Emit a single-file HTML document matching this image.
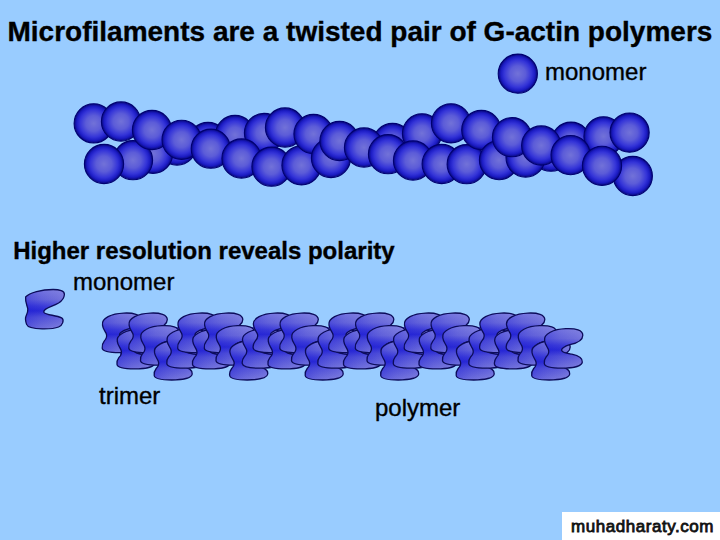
<!DOCTYPE html>
<html><head><meta charset="utf-8"><style>
html,body{margin:0;padding:0;}
body{width:720px;height:540px;background:#99ccff;position:relative;overflow:hidden;font-family:"Liberation Sans",sans-serif;color:#000;}
.t{position:absolute;white-space:nowrap;line-height:1;-webkit-text-stroke:0.35px #000;}
svg{position:absolute;left:0;top:0;}
.s{fill:url(#sg);stroke:#000070;stroke-width:1.1;}
#wm{position:absolute;left:562px;top:512px;width:158px;height:28px;background:#fff;}
</style></head><body>
<svg width="720" height="540" viewBox="0 0 720 540">
<defs>
<radialGradient id="sg" cx="50%" cy="50%" r="50%">
<stop offset="0" stop-color="#7272d8"/>
<stop offset="0.4" stop-color="#5c5cd8"/>
<stop offset="0.7" stop-color="#3434d8"/>
<stop offset="0.86" stop-color="#1c1cc4"/>
<stop offset="1" stop-color="#08087e"/>
</radialGradient>
<linearGradient id="ug" x1="0" y1="0" x2="0" y2="1">
<stop offset="0" stop-color="#7c7ce0"/>
<stop offset="0.25" stop-color="#6868da"/>
<stop offset="0.42" stop-color="#3c3cd8"/>
<stop offset="0.54" stop-color="#2a2ad4"/>
<stop offset="0.7" stop-color="#5454d8"/>
<stop offset="1" stop-color="#7878dc"/>
</linearGradient>
<linearGradient id="uh" x1="0" y1="0" x2="1" y2="0">
<stop offset="0" stop-color="#1414d8" stop-opacity="0.35"/>
<stop offset="0.4" stop-color="#2020d8" stop-opacity="0.1"/>
<stop offset="0.7" stop-color="#8080e0" stop-opacity="0.1"/>
<stop offset="1" stop-color="#9898e8" stop-opacity="0.3"/>
</linearGradient>
<path id="ushape" d="M0.8,12 C-0.5,5 10,0.5 22,0 C32,-0.5 39,1.5 39,6.5 C39,11.5 33,14.5 26,16 C21,17.5 17,20 18,22 C19,24 23,24.5 28,25.5 C35,27 39,29.5 38.5,33.5 C38,37.5 29,39.5 18,39.5 C8,39.5 1,38.5 0.5,35 C0,32 1,30 2.5,28 C4.5,26 5.5,23 4.5,20.5 C3.5,18 1.2,16 0.8,12 Z"/>
<path id="mshape" d="M0,7.5 C4,3 16,0 27.5,0 C34,0 39,1.5 38.8,5 C38.5,9 37,11 33,13.5 C27,17 17,19 18.3,22.7 C19.5,25.5 30,25.5 36,28.3 C39,30.5 37,36 33,37.5 C28,39.5 22,39.5 16.6,39.4 C9,39.2 2,38 1,34.9 C0,32 -0.5,29 0.3,27 C1.5,24 2.5,22 2.2,19.4 C1.5,16 -0.5,12 0,7.5 Z"/>
<g id="m0"><use href="#mshape" fill="url(#ug)"/><use href="#mshape" fill="url(#uh)" stroke="#0c0c5a" stroke-width="1.3"/></g>
<g id="u0"><use href="#ushape" fill="url(#ug)"/><use href="#ushape" fill="url(#uh)" stroke="#0c0c5a" stroke-width="1.3"/></g>
<g id="u"><use href="#u0" x="101.7" y="313.1"/></g>
</defs>
<circle cx="517.8" cy="73.7" r="19.6" class="s"/>
<circle cx="177" cy="145.5" r="19.6" class="s"/>
<circle cx="153" cy="153.8" r="19.6" class="s"/>
<circle cx="208" cy="142" r="19.6" class="s"/>
<circle cx="235" cy="135" r="19.6" class="s"/>
<circle cx="392.5" cy="143" r="19.6" class="s"/>
<circle cx="551" cy="151.7" r="19.6" class="s"/>
<circle cx="571" cy="141.7" r="19.6" class="s"/>
<circle cx="93.7" cy="123.4" r="19.6" class="s"/>
<circle cx="121" cy="121.5" r="19.6" class="s"/>
<circle cx="133" cy="160.2" r="19.6" class="s"/>
<circle cx="104" cy="164" r="19.6" class="s"/>
<circle cx="152" cy="130" r="19.6" class="s"/>
<circle cx="181.6" cy="139.8" r="19.6" class="s"/>
<circle cx="210.8" cy="148.7" r="19.6" class="s"/>
<circle cx="264" cy="133" r="19.6" class="s"/>
<circle cx="241.5" cy="158.5" r="19.6" class="s"/>
<circle cx="271.5" cy="166.7" r="19.6" class="s"/>
<circle cx="285" cy="127.5" r="19.6" class="s"/>
<circle cx="301.5" cy="165.3" r="19.6" class="s"/>
<circle cx="313.5" cy="134" r="19.6" class="s"/>
<circle cx="331" cy="158" r="19.6" class="s"/>
<circle cx="339.5" cy="141" r="19.6" class="s"/>
<circle cx="364" cy="147.5" r="19.6" class="s"/>
<circle cx="388" cy="154.2" r="19.6" class="s"/>
<circle cx="422" cy="133.4" r="19.6" class="s"/>
<circle cx="413" cy="160.5" r="19.6" class="s"/>
<circle cx="451" cy="123.3" r="19.6" class="s"/>
<circle cx="441.7" cy="164" r="19.6" class="s"/>
<circle cx="466.7" cy="164.2" r="19.6" class="s"/>
<circle cx="481.3" cy="130" r="19.6" class="s"/>
<circle cx="499" cy="160.1" r="19.6" class="s"/>
<circle cx="525.6" cy="157.5" r="19.6" class="s"/>
<circle cx="512" cy="137.2" r="19.6" class="s"/>
<circle cx="541.2" cy="145.5" r="19.6" class="s"/>
<circle cx="603.5" cy="136.4" r="19.6" class="s"/>
<circle cx="570.6" cy="155.1" r="19.6" class="s"/>
<circle cx="632.8" cy="176" r="19.6" class="s"/>
<circle cx="602" cy="165.8" r="19.6" class="s"/>
<circle cx="629.6" cy="132.6" r="19.6" class="s"/>
<use href="#m0" x="25.6" y="289.5"/>
<path d="M120,327 L552,327 L552,332 L565,332 L565,358 L120,358 Z" fill="#4a4ad4"/>
<use href="#u" x="0.0" y="0.0"/>
<use href="#u" x="14.8" y="16.3"/>
<use href="#u" x="26.6" y="0.0"/>
<use href="#u" x="38.3" y="12.6"/>
<use href="#u" x="52.0" y="27.4"/>
<use href="#u" x="64.6" y="15.6"/>
<use href="#u" x="75.5" y="0.0"/>
<use href="#u" x="90.3" y="16.3"/>
<use href="#u" x="102.1" y="0.0"/>
<use href="#u" x="113.8" y="12.6"/>
<use href="#u" x="127.5" y="27.4"/>
<use href="#u" x="140.1" y="15.6"/>
<use href="#u" x="151.0" y="0.0"/>
<use href="#u" x="165.8" y="16.3"/>
<use href="#u" x="177.6" y="0.0"/>
<use href="#u" x="189.3" y="12.6"/>
<use href="#u" x="203.0" y="27.4"/>
<use href="#u" x="215.6" y="15.6"/>
<use href="#u" x="226.5" y="0.0"/>
<use href="#u" x="241.3" y="16.3"/>
<use href="#u" x="253.1" y="0.0"/>
<use href="#u" x="264.8" y="12.6"/>
<use href="#u" x="278.5" y="27.4"/>
<use href="#u" x="291.1" y="15.6"/>
<use href="#u" x="302.0" y="0.0"/>
<use href="#u" x="316.8" y="16.3"/>
<use href="#u" x="328.6" y="0.0"/>
<use href="#u" x="340.3" y="12.6"/>
<use href="#u" x="354.0" y="27.4"/>
<use href="#u" x="366.6" y="15.6"/>
<use href="#u" x="377.5" y="0.0"/>
<use href="#u" x="392.3" y="16.3"/>
<use href="#u" x="404.1" y="0.0"/>
<use href="#u" x="415.8" y="12.6"/>
<use href="#u" x="429.5" y="27.4"/>
<use href="#u" x="442.1" y="15.6"/>
</svg>
<div class="t" style="left:7.5px;top:17.5px;font-size:28px;font-weight:bold;">Microfilaments are a twisted pair of G-actin polymers</div>
<div class="t" style="left:545px;top:59.5px;font-size:24px;">monomer</div>
<div class="t" style="left:13.2px;top:239px;font-size:24px;font-weight:bold;">Higher resolution reveals polarity</div>
<div class="t" style="left:73px;top:270px;font-size:24px;">monomer</div>
<div class="t" style="left:99px;top:383.5px;font-size:24px;">trimer</div>
<div class="t" style="left:375px;top:396px;font-size:24px;">polymer</div>
<div id="wm"><div class="t" style="left:9px;top:6.2px;font-size:17px;font-weight:normal;color:#111;letter-spacing:0.55px;-webkit-text-stroke:0.8px #111;">muhadharaty.com</div></div>
</body></html>
